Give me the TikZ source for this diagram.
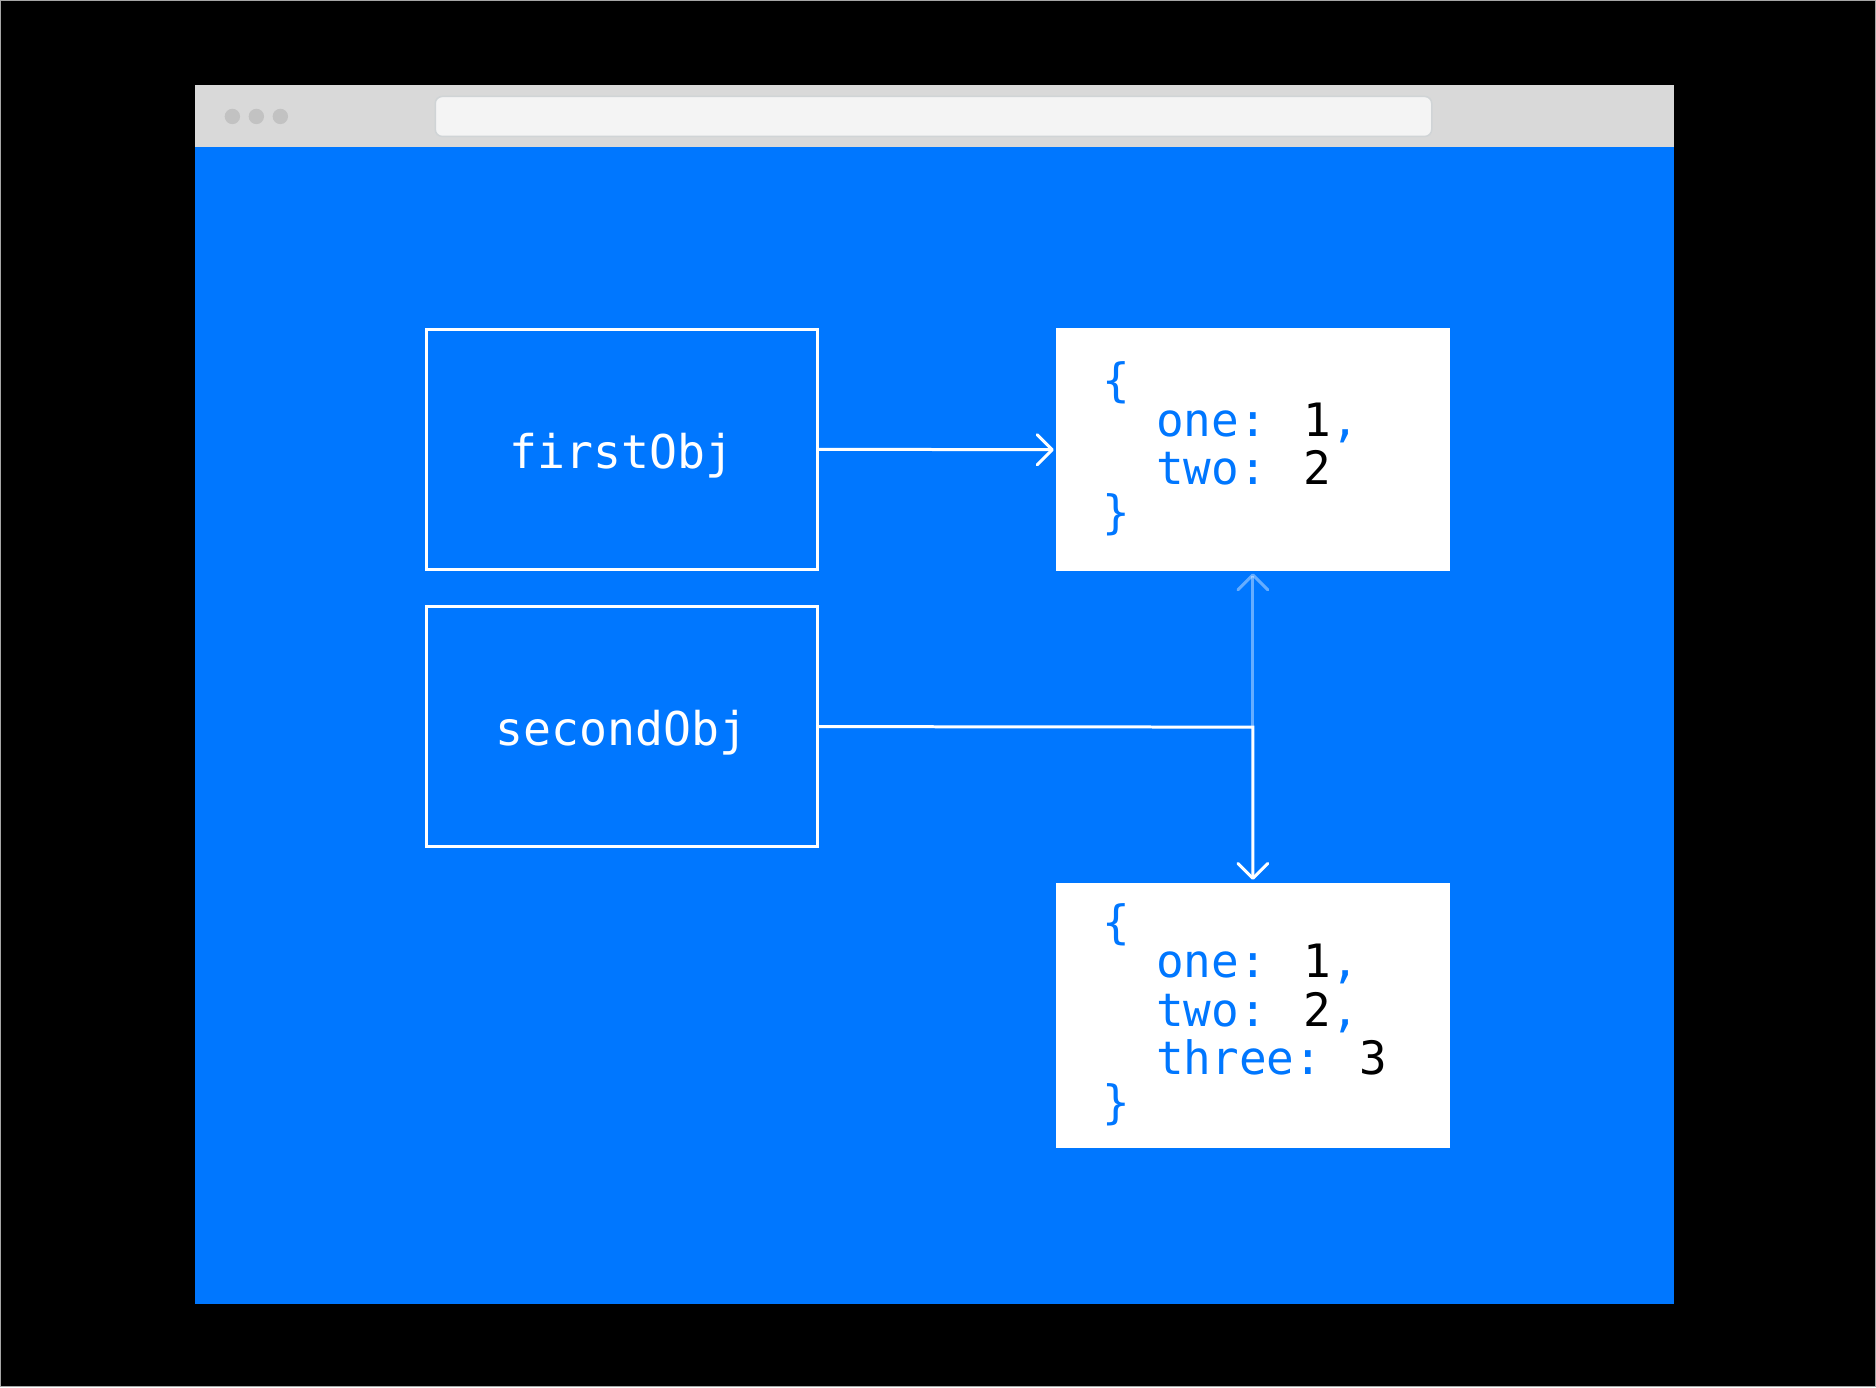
\documentclass[tikz,border=0pt]{standalone}
\usepackage{fontspec}
\usetikzlibrary{arrows.meta}
\newfontfamily\monofont{DejaVu Sans Mono}
\definecolor{bgblue}{RGB}{0,119,255}
\definecolor{titlegrey}{RGB}{217,217,217}
\definecolor{dotgrey}{RGB}{194,194,194}
\definecolor{addrfill}{RGB}{244,244,244}
\definecolor{addrborder}{RGB}{208,212,214}
\tikzset{
  objbox/.style={draw=white, line width=3pt, fill=bgblue, minimum width=391pt, minimum height=240pt, inner sep=0pt},
  objlabel/.style={text=white, font=\monofont\fontsize{46.5}{50}\selectfont, inner sep=0pt},
  codebox/.style={fill=white, draw=none, minimum width=394pt, inner sep=0pt},
  codeline/.style={anchor=base west, inner sep=0pt, text=bgblue, font=\monofont\fontsize{46}{48}\selectfont},
  conn/.style={draw=white, line width=3pt},
  tip/.style={-{Straight Barb[length=15pt, width=30pt, round]}},
}
\newcommand{\num}[1]{\textcolor{black}{#1}}
\begin{document}
\begin{tikzpicture}[x=1pt,y=-1pt]
\fill[black] (0,0) rectangle (1876,1387);
\draw[gray!70, line width=1pt] (0,0) rectangle (1876,1387);
% browser window
\fill[bgblue] (195,147) rectangle (1674,1304);
\fill[titlegrey] (195,85) rectangle (1674,147);
\fill[dotgrey] (232,116) circle (7.7);
\fill[dotgrey] (256,116) circle (7.7);
\fill[dotgrey] (280,116) circle (7.7);
\draw[addrborder, fill=addrfill, line width=1.5pt, rounded corners=7pt] (435,96) rectangle (1432,136);
% object boxes
\node[objbox] (first) at (621.5,449) {};
\node[objbox] (second) at (621.5,726.5) {};
\node[objlabel, yshift=-6pt] (firstlbl) at (first.center) {firstObj};
\node[objlabel, yshift=-6pt] (secondlbl) at (second.center) {secondObj};
% code boxes
\node[codebox, minimum height=243pt] (obja) at (1253,449.5) {};
\node[codebox, minimum height=265pt] (objb) at (1253,1015.5) {};
\node[codeline] (a1) at (1102,396) {\{};
\node[codeline] (a2) at (1156,436) {one: \num{1},};
\node[codeline] (a3) at (1156,484.5) {two: \num{2}};
\node[codeline] (a4) at (1102,528) {\}};
\node[codeline] (b1) at (1102,938) {\{};
\node[codeline] (b2) at (1156,978) {one: \num{1},};
\node[codeline] (b3) at (1156,1026.5) {two: \num{2},};
\node[codeline] (b4) at (1156,1075) {three: \num{3}};
\node[codeline] (b5) at (1102,1119) {\}};
% connectors
\coordinate (corner) at (1253,727);
\draw[conn, tip, shorten >=2pt] (first.east) -- (obja.west);
\draw[conn, white, opacity=0.4, tip, shorten >=2pt] (corner) -- (obja.south);
\draw[conn, tip, shorten >=3pt] (second.east) -- (corner) -- (objb.north);
\end{tikzpicture}
\end{document}
